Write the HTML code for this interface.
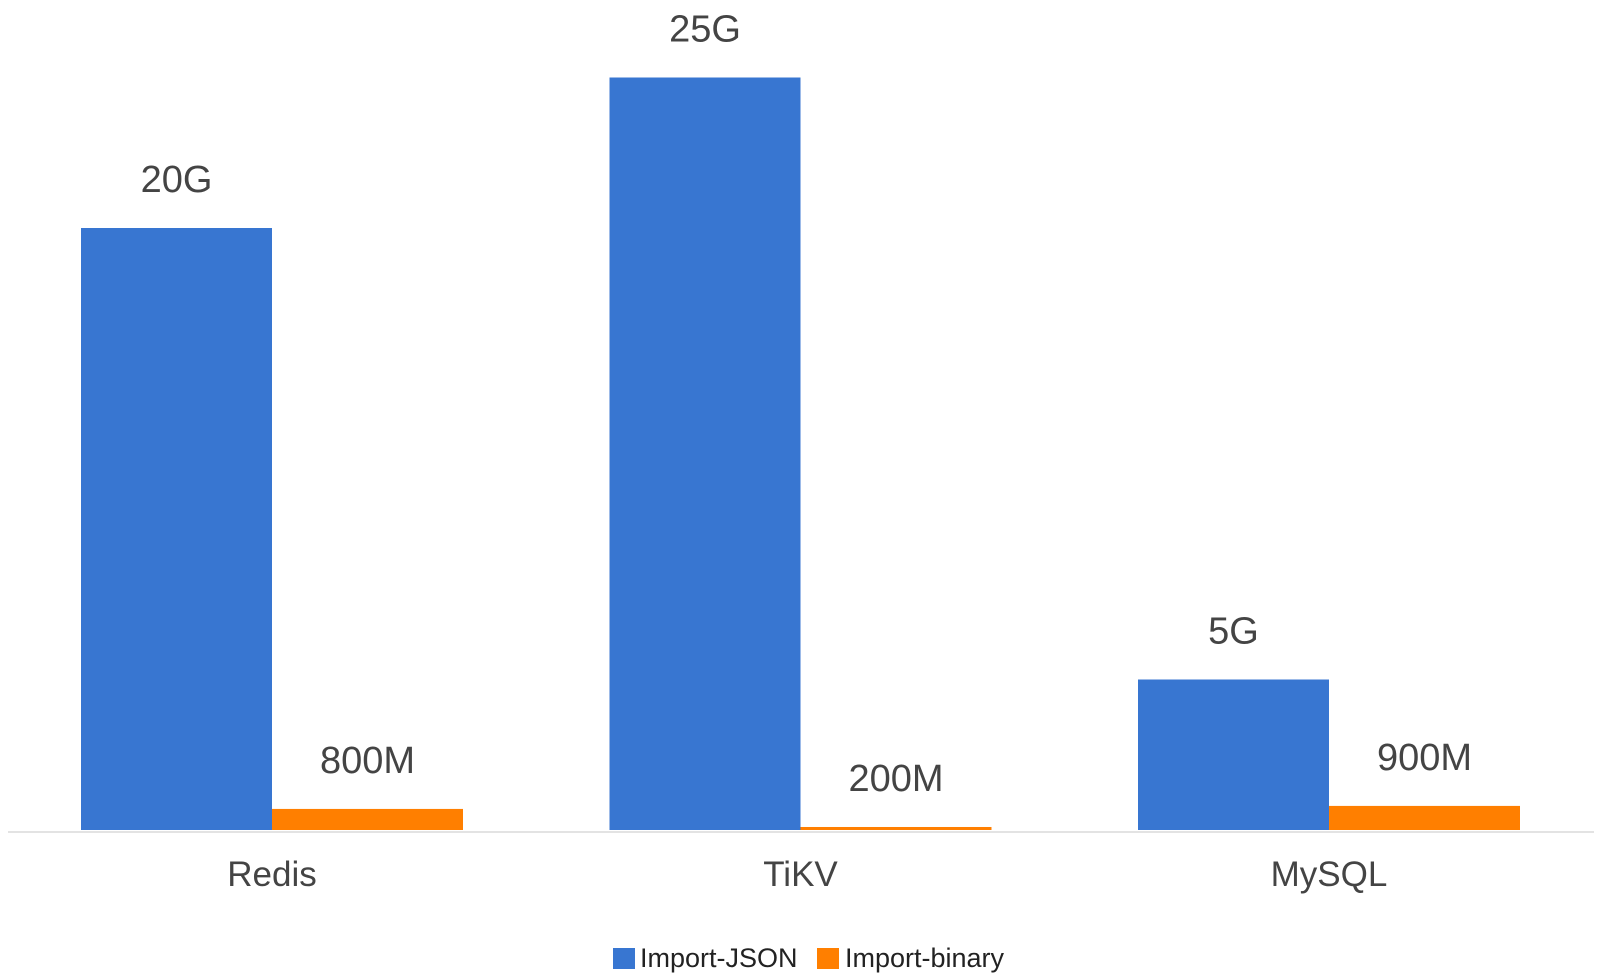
<!DOCTYPE html>
<html><head><meta charset="utf-8"><style>
body{margin:0;background:#fff;}
svg{display:block;font-family:"Liberation Sans",Arial,sans-serif;}
</style></head><body>
<svg id="chart" width="1600" height="978" viewBox="0 0 1600 978">
<line x1="8" y1="832" x2="1594" y2="832" stroke="#e3e3e3" stroke-width="2"/>
<g id="bars"></g>
<g>
<rect x="613" y="948" width="22" height="21" fill="#3876d1"/>
<text x="640" y="967" font-size="27" fill="#222">Import-JSON</text>
<rect x="817" y="948" width="22" height="21" fill="#ff7f00"/>
<text x="845" y="967" font-size="27" fill="#222">Import-binary</text>
</g>
</svg>
<script>
const categories=["Redis","TiKV","MySQL"];
const jsonValues=[20,25,5];
const binaryValues=[0.7,0.1,0.8];
const jsonLabels=["20G","25G","5G"];
const binaryLabels=["800M","200M","900M"];
const baseY=830, pxPerUnit=30.1, x0=81, step=528.5, bw=191;
const y=v=>baseY-v*pxPerUnit;
const g=document.getElementById('bars');
const NS="http://www.w3.org/2000/svg";
function mk(tag,attrs){const e=document.createElementNS(NS,tag);for(const k in attrs)e.setAttribute(k,attrs[k]);return e;}
categories.forEach((c,i)=>{
  const gx=x0+i*step;
  [[jsonValues[i],jsonLabels[i],"#3876d1",0,"json"],[binaryValues[i],binaryLabels[i],"#ff7f00",bw,"binary"]].forEach(([v,l,col,off,s])=>{
    const top=y(v);
    const r=mk('rect',{x:gx+off,y:top,width:bw,height:baseY-top,fill:col});
    
    
    g.appendChild(r);
    const t=mk('text',{x:gx+off+bw/2,y:top-36,'text-anchor':'middle','font-size':'38',fill:'#444'});
    
    
    t.textContent=l;g.appendChild(t);
  });
  const ct=mk('text',{x:gx+bw,y:886,'text-anchor':'middle','font-size':'35',fill:'#444'});
  
  
  ct.textContent=c;g.appendChild(ct);
});
</script>
</body></html>
